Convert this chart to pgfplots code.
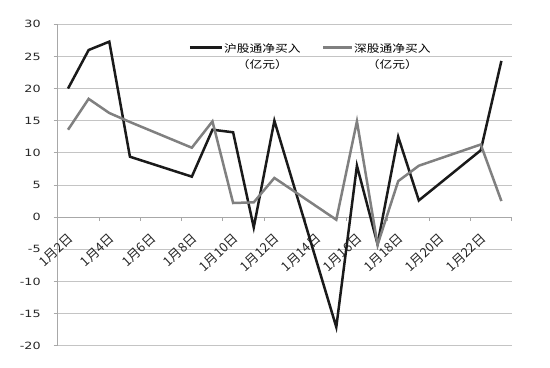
\documentclass[border=0pt]{standalone}
\usepackage{pgfplots}
\pgfplotsset{compat=1.18}
\usepackage{fontspec}
\setmainfont{DejaVu Sans}
\newfontfamily\cjk{Noto Sans CJK SC}
\definecolor{gridgray}{HTML}{C4C4C4}
\definecolor{axisgray}{HTML}{A8A8A8}
\definecolor{linegray}{HTML}{808080}
\definecolor{lineblack}{HTML}{1A1A1A}
\begin{document}
\begin{tikzpicture}
\useasboundingbox (-57.7bp,-22.3bp) rectangle (492.3bp,345.7bp);
\begin{axis}[
  at={(0,0)}, anchor=south west,
  scale only axis, width=454bp, height=321.4bp,
  xmin=1.5, xmax=23.5, ymin=-20, ymax=30,
  axis x line=middle, axis y line=left,
  axis line style={-, draw=axisgray, line width=0.9bp},
  tick align=outside,
  ytick={-20,-15,...,30},
  yticklabels={-20,-15,-10,-5,0,5,10,15,20,25,30},
  ymajorgrids, grid style={gridgray, line width=0.9bp},
  major tick length=4bp, minor tick length=4bp,
  tick style={axisgray, line width=0.9bp},
  xtick={2,4,...,22},
  xticklabels={1月2日,1月4日,1月6日,1月8日,1月10日,1月12日,1月14日,1月16日,1月18日,1月20日,1月22日},
  minor xtick={1.5,3.5,...,23.5},
  major x tick style={draw=none},
  xticklabel style={font=\cjk\fontsize{13}{15}\selectfont, text=black!85, yshift=-11bp, xshift=-1bp, rotate=43, anchor=north east, inner sep=0pt},
  yticklabel style={font=\fontsize{10}{12}\selectfont, text=black!85, xscale=1.28, anchor=east, inner sep=0pt, xshift=-10bp},
  clip=false,
]
\addplot[lineblack, line width=2.5bp] coordinates {
 (2,20.0) (3,26.0) (4,27.3) (5,9.4) (8,6.3) (9,13.6) (10,13.2) (11,-1.6)
 (12,15.0) (15,-17.1) (16,8.0) (17,-4.2) (18,12.5) (19,2.6) (22,10.4) (23,24.3)};
\addplot[linegray, line width=2.5bp] coordinates {
 (2,13.6) (3,18.4) (4,16.2) (5,14.8) (8,10.8) (9,14.9) (10,2.2) (11,2.3)
 (12,6.1) (15,-0.4) (16,14.9) (17,-4.3) (18,5.6) (19,8.0) (22,11.3) (23,2.5)};
% legend
\draw[lineblack, line width=2.2bp] (axis cs:7.91,26.4) -- (axis cs:9.46,26.4);
\node[font=\cjk\fontsize{10.5}{12}\selectfont, xscale=1.22, anchor=west, inner sep=0pt] (l1) at (axis cs:9.55,26.3) {沪股通净买入};
\node[font=\cjk\fontsize{10.5}{12}\selectfont, xscale=1.22, inner sep=0pt, yshift=-16.7bp] at (l1.center) {（亿元）};
\draw[linegray, line width=2.2bp] (axis cs:14.36,26.4) -- (axis cs:15.76,26.4);
\node[font=\cjk\fontsize{10.5}{12}\selectfont, xscale=1.22, anchor=west, inner sep=0pt] (l2) at (axis cs:15.85,26.3) {深股通净买入};
\node[font=\cjk\fontsize{10.5}{12}\selectfont, xscale=1.22, inner sep=0pt, yshift=-16.7bp] at (l2.center) {（亿元）};
\end{axis}
\end{tikzpicture}
\end{document}
